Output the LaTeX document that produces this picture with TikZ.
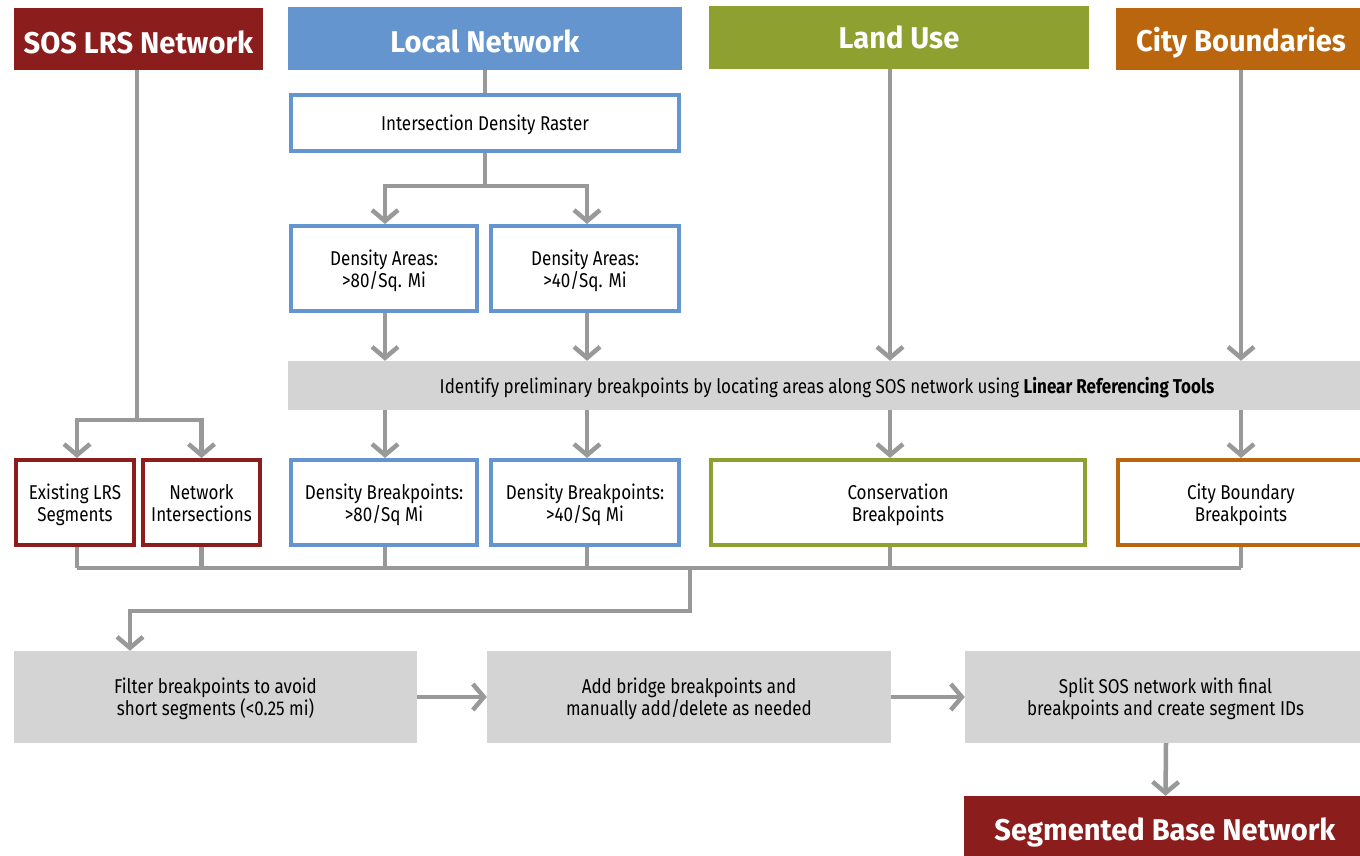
\documentclass[tikz,border=0pt]{standalone}
\usepackage{fontspec}
\setmainfont{Fira Sans}[FakeStretch=0.85]
\newfontfamily\headfont{Fira Sans}[FakeStretch=0.97]
\usetikzlibrary{arrows.meta}
\definecolor{sosred}{HTML}{8C1D1D}
\definecolor{locblue}{HTML}{6595CE}
\definecolor{landgreen}{HTML}{8EA02F}
\definecolor{cityorange}{HTML}{B9660E}
\definecolor{boxgrey}{HTML}{D4D4D4}
\definecolor{linegrey}{HTML}{999999}

\begin{document}
\begin{tikzpicture}[x=1pt,y=-1pt,
  head/.style={fill=#1,text=white,font=\headfont\bfseries\fontsize{30}{32}\selectfont,inner sep=0pt,text depth=0pt},
  outbox/.style={draw=#1,line width=4pt,fill=white,align=center,font=\fontsize{20}{22}\selectfont,inner sep=0pt,text depth=0pt},
  greybox/.style={fill=boxgrey,align=center,font=\fontsize{20}{22}\selectfont,inner sep=0pt,text depth=0pt},
  line/.style={draw=linegrey,line width=4.5pt},
  arr/.style={line,-{Straight Barb[length=11pt,width=26pt]}}]
\useasboundingbox (0,0) rectangle (1360,856);

% source headings
\node[head=sosred,text height=29pt,minimum width=249,minimum height=62] (sos) at (138.5,39) {SOS LRS Network};
\node[head=locblue,text height=29pt,minimum width=394,minimum height=63] (loc) at (485,38.5) {Local Network};
\node[head=landgreen,minimum width=380,minimum height=63] (land) at (899,37.5) {Land Use};
\node[head=cityorange,minimum width=250,minimum height=62] (city) at (1241,39) {City Boundaries};

% local network steps
\node[outbox=locblue,minimum width=388,minimum height=56] (raster) at (485,123) {Intersection Density Raster};
\node[outbox=locblue,minimum width=186,minimum height=85] (da80) at (384,268.5) {Density Areas:\\>80/Sq. Mi};
\node[outbox=locblue,minimum width=188,minimum height=85] (da40) at (585,268.5) {Density Areas:\\>40/Sq. Mi};

\node[greybox,minimum width=1078,minimum height=49] (ident) at (827,385.5)
  {Identify preliminary breakpoints by locating areas along SOS network using \textbf{Linear Referencing Tools}};

% breakpoints
\node[outbox=sosred,minimum width=118,minimum height=85] (lrs) at (75,502.5) {Existing LRS\\Segments};
\node[outbox=sosred,minimum width=117,minimum height=85] (inter) at (201.5,502.5) {Network\\Intersections};
\node[outbox=locblue,minimum width=186,minimum height=85] (db80) at (384,502.5) {Density Breakpoints:\\>80/Sq Mi};
\node[outbox=locblue,minimum width=188,minimum height=85] (db40) at (585,502.5) {Density Breakpoints:\\>40/Sq Mi};
\node[outbox=landgreen,minimum width=374,minimum height=85] (cons) at (898,502.5) {Conservation\\Breakpoints};
\node[outbox=cityorange,minimum width=246,minimum height=85] (cbb) at (1241,502.5) {City Boundary\\Breakpoints};

% final steps
\node[greybox,minimum width=403,minimum height=92] (filter) at (215.5,697) {Filter breakpoints to avoid\\short segments (<0.25 mi)};
\node[greybox,minimum width=404,minimum height=92] (bridge) at (689,697) {Add bridge breakpoints and\\manually add/delete as needed};
\node[greybox,minimum width=401,minimum height=92] (split) at (1165.5,697) {Split SOS network with final\\breakpoints and create segment IDs};
\node[head=sosred,minimum width=402,minimum height=66] (seg) at (1165,829) {Segmented Base Network};

% SOS branch
\coordinate (sosj) at (137,420);
\draw[line] (sos.south -| sosj) -- (sosj);
\draw[arr] (sosj) -| ([xshift=2]lrs.north);
\draw[arr] (sosj) -| (inter.north);

% local branch
\draw[line] (loc) -- (raster);
\draw[line] (raster.south) -- ++(0,33) coordinate (rj);
\draw[arr] (rj) -| ([xshift=1]da80.north);
\draw[arr] (rj) -| ([xshift=2]da40.north);
\draw[arr] ([xshift=1]da80.south) -- ([xshift=1]da80.south |- ident.north);
\draw[arr] ([xshift=2]da40.south) -- ([xshift=2]da40.south |- ident.north);
\draw[arr] ([xshift=-9]land.south) -- ([xshift=-9]land.south |- ident.north);
\draw[arr] (city.south) -- (city.south |- ident.north);

% out of the grey bar
\foreach \n/\dx in {db80/1,db40/2,cons/-8,cbb/0} {
  \draw[arr] ([xshift=\dx]\n.north |- ident.south) -- ([xshift=\dx]\n.north);
}

% collect breakpoints
\coordinate (bus) at (690,568);
\foreach \n/\dx in {lrs/2,inter/0,db80/1,db40/2,cons/-8,cbb/0} {
  \draw[line] ([xshift=\dx]\n.south) -- ([xshift=\dx]\n.south |- bus);
}
\draw[line] ([xshift=2]lrs.south |- bus) -- (cbb.south |- bus);
\draw[arr] (bus) -- (690,611) -| ([xshift=-85.5]filter.north);

\draw[arr] (filter) -- (bridge);
\draw[arr] (bridge) -- (split);
\draw[arr] ([xshift=0.5]split.south) -- ([xshift=0.5]seg.north);
\end{tikzpicture}
\end{document}
